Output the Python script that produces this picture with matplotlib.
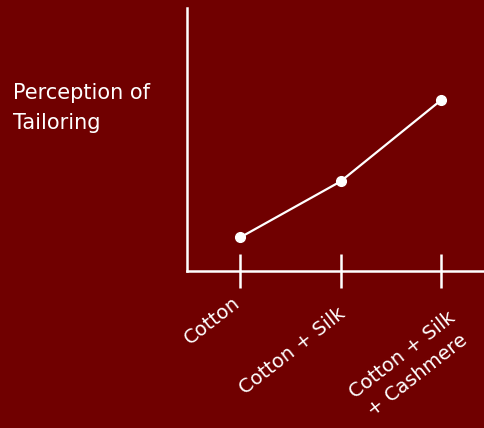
import matplotlib
matplotlib.use("Agg")
import matplotlib.pyplot as plt

# Fabric blends and how strongly each one reads as "tailored"
categories = ["Cotton", "Cotton + Silk", "Cotton + Silk\n+ Cashmere"]
perception = [1.0, 2.0, 3.45]

BG = "#700000"
FG = "white"

plt.rcParams["font.family"] = ["DejaVu Sans"]

fig = plt.figure(figsize=(4.85, 4.28), dpi=100, facecolor=BG)
ax = fig.add_axes([187 / 485, 157 / 428, 298 / 485, 263 / 428], facecolor=BG)

x = list(range(len(categories)))
ax.plot(x, perception, color=FG, linewidth=1.6, marker="o",
        markersize=7, markerfacecolor=FG, markeredgecolor=FG, clip_on=False)

ax.set_xlim(-0.53, 2.44)
ax.set_ylim(0.4, 5.1)

for side in ("top", "right"):
    ax.spines[side].set_visible(False)
for side in ("left", "bottom"):
    ax.spines[side].set_color(FG)
    ax.spines[side].set_linewidth(1.8)

ax.set_yticks([])
ax.set_xticks(x)
ax.set_xticklabels([])
ax.tick_params(axis="x", direction="inout", length=24, width=1.8, color=FG)

# slanted category names hanging below each tick (pixel nudges per label)
label_nudge = [(-8, -22), (-3, -33), (6, -37)]
for xi, name, (dx, dy) in zip(x, categories, label_nudge):
    ax.annotate(name, xy=(xi, 0), xycoords=ax.get_xaxis_transform(),
                xytext=(dx, dy), textcoords="offset pixels",
                rotation=38, rotation_mode="anchor", ha="right", va="top",
                multialignment="center", linespacing=1.45,
                color=FG, fontsize=14, annotation_clip=False)

fig.text(13 / 485, 1 - 83 / 428, "Perception of\nTailoring", color=FG,
         fontsize=15, ha="left", va="top", linespacing=1.6)

fig.savefig("out.png", dpi=100, facecolor=BG)
